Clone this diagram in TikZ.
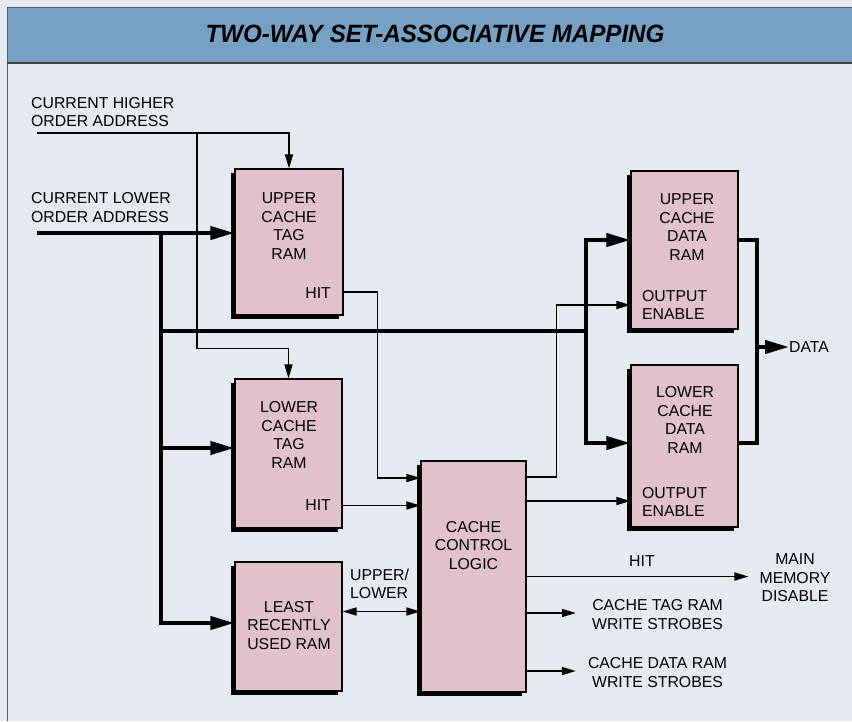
\documentclass[tikz,border=0pt]{standalone}
\usepackage{fontspec}
\setmainfont{Liberation Sans}
\newfontfamily\titlefont[FakeStretch=0.965]{Liberation Sans}
\usepackage{tikz}
\usetikzlibrary{arrows.meta,positioning,shadows,calc}
\definecolor{paper}{RGB}{228,234,239}
\definecolor{steel}{RGB}{118,160,196}
\definecolor{rose}{RGB}{224,194,200}
\definecolor{rim}{RGB}{90,90,90}

\tikzset{
  ram/.style={draw=black,line width=1.2pt,fill=rose,inner sep=0pt,
    drop shadow={shadow xshift=-4pt,shadow yshift=-4pt,opacity=1,fill=black}},
  lbl/.style={font=\fontsize{15.8}{18.5}\selectfont,align=center,inner sep=0pt},
  wire/.style={line width=1.6pt,>={Triangle[length=14pt,width=8pt]}},
  bus/.style={line width=4pt,>={Triangle[length=24pt,width=13pt]}}
}

\begin{document}
\begin{tikzpicture}[x=1pt,y=-1pt]
  \useasboundingbox (0,0) rectangle (852,721);
  \fill[paper] (0,0) rectangle (852,721);
  \fill[steel] (7,7) rectangle (852,63);
  \draw[rim,line width=1pt] (7,721) -- (7,7) -- (852,7);
  \draw[black!75,line width=1.2pt] (7,63) -- (852,63);
  \node[font=\titlefont\bfseries\itshape\fontsize{25}{27}\selectfont] (title) at (435,34) {TWO-WAY SET-ASSOCIATIVE MAPPING};

  % rams and logic
  \node[ram,minimum width=108pt,minimum height=146pt] (utag) at (289,242) {};
  \node[ram,minimum width=107pt,minimum height=149pt] (ltag) at (288.5,453.5) {};
  \node[ram,minimum width=107pt,minimum height=129pt] (lru) at (288.5,626.5) {};
  \node[ram,minimum width=105pt,minimum height=231pt] (ccl) at (473.5,576.5) {};
  \node[ram,minimum width=107pt,minimum height=158pt] (udata) at (684.5,250) {};
  \node[ram,minimum width=107pt,minimum height=162pt] (ldata) at (684.5,446) {};

  \node[lbl] (utagT) at (289,226) {UPPER\\CACHE\\TAG\\RAM};
  \node[lbl,anchor=east] (utagH) at (331,293) {HIT};
  \node[lbl] (ltagT) at (289,435) {LOWER\\CACHE\\TAG\\RAM};
  \node[lbl,anchor=east] (ltagH) at (331,505) {HIT};
  \node[lbl] (lruT) at (289,625.5) {LEAST\\RECENTLY\\USED RAM};
  \node[lbl] (cclT) at (473.5,545.5) {CACHE\\CONTROL\\LOGIC};
  \node[lbl] (udataT) at (687,227) {UPPER\\CACHE\\DATA\\RAM};
  \node[lbl,anchor=west,align=left] (udataE) at (642,305) {OUTPUT\\ENABLE};
  \node[lbl] (ldataT) at (685,420) {LOWER\\CACHE\\DATA\\RAM};
  \node[lbl,anchor=west,align=left] (ldataE) at (642,502) {OUTPUT\\ENABLE};

  % outside labels
  \node[lbl,anchor=west,align=left] (hiAddr) at (31,112) {CURRENT HIGHER\\ORDER ADDRESS};
  \node[lbl,anchor=west,align=left] (loAddr) at (31,207.5) {CURRENT LOWER\\ORDER ADDRESS};
  \node[lbl,anchor=west,align=left] (ulT) at (350,584) {UPPER/\\LOWER};
  \node[lbl] (mmd) at (795,578) {MAIN\\MEMORY\\DISABLE};
  \node[lbl] (tagWS) at (657.5,614.5) {CACHE TAG RAM\\WRITE STROBES};
  \node[lbl] (dataWS) at (657.5,672.5) {CACHE DATA RAM\\WRITE STROBES};
  \node[lbl,anchor=west] (dataOut) at (789,347) {DATA};

  % address inputs
  \coordinate (hiIn) at (37,133);
  \coordinate (hiBr) at (197,133);
  \coordinate (loIn) at (37,233);
  \coordinate (loBr) at (161,233);
  \coordinate (ltagIn) at ([yshift=5.5pt]ltag.west);
  \coordinate (lruIn) at ([yshift=3.5pt]lru.west);
  \coordinate (dataBr) at (586,331);
  \draw[wire,->] (hiIn) -| (utag.north);
  \draw[wire,->] (hiBr) |- ([yshift=30pt]ltag.north) -- (ltag.north);
  \draw[bus,->] (loIn) -- (loIn -| utag.west);
  \draw[bus,->] (loBr) |- (lruIn);
  \draw[bus,->] (loBr |- ltagIn) -- (ltagIn);
  \draw[bus] (loBr |- dataBr) -- (dataBr);
  \draw[bus,->] (dataBr) |- ([yshift=10pt]udata.west);
  \draw[bus,->] (dataBr) |- ([yshift=3pt]ldata.west);

  % hit and select lines
  \coordinate (ltagHit) at ([yshift=-52pt]ltag.east);
  \coordinate (lruSel) at ([yshift=15pt]lru.east);
  \draw[wire,->] ([yshift=-50pt]utag.east) -| ([xshift=-43pt,yshift=98.5pt]ccl.west) -- ([yshift=98.5pt]ccl.west);
  \draw[wire,->] (ltagHit) -- (ltagHit -| ccl.west);
  \draw[wire,<->] (lruSel) -- (lruSel -| ccl.west);

  % control outputs
  \coordinate (oeUp) at ([yshift=99.5pt]ccl.east);
  \coordinate (oeLo) at ([yshift=75.5pt]ccl.east);
  \coordinate (tagWr) at ([yshift=-36.5pt]ccl.east);
  \coordinate (dataWr) at ([yshift=-94.5pt]ccl.east);
  \draw[wire,->] (oeUp) -| ([xshift=-74pt,yshift=-55pt]udata.west) -- ([yshift=-55pt]udata.west);
  \draw[wire,->] (oeLo) -- (oeLo -| ldata.west);
  \draw[wire,->] (ccl.east) -- ($(ccl.east -| mmd.west)+(-11,0)$) node[lbl,pos=0.52,above=9pt] (hitOut) {HIT};
  \draw[wire,->] (tagWr) -- ($(tagWr -| tagWS.west)+(-16,0)$);
  \draw[wire,->] (dataWr) -- ($(dataWr -| dataWS.west)+(-12,0)$);

  % data out
  \coordinate (dataJ) at (757,347);
  \draw[bus] ([yshift=10pt]udata.east) -| (dataJ) |- ([yshift=3pt]ldata.east);
  \draw[bus,->] (dataJ) -- (dataOut.west);
\end{tikzpicture}
\end{document}
